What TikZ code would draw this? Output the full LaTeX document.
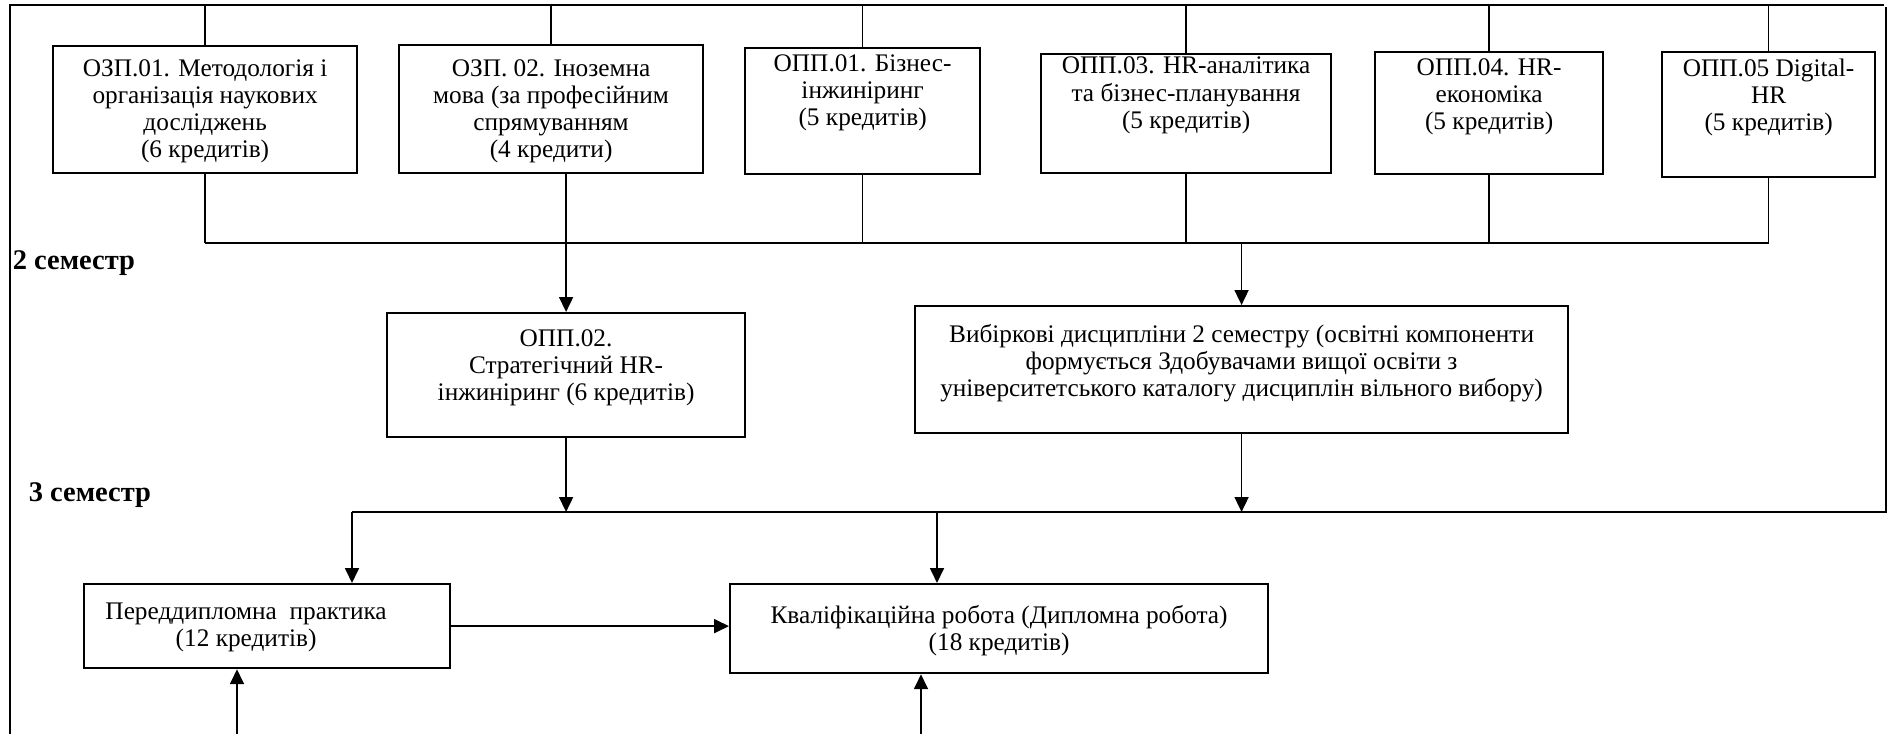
\documentclass[tikz,border=0pt]{standalone}
\usepackage{fontspec}
\setmainfont{Liberation Serif}
\usetikzlibrary{arrows.meta}
\newcommand{\boxtext}[3]{\parbox[c][#2][t]{#1}{\centering #3}}

\begin{document}
\begin{tikzpicture}[x=0.02cm,y=-0.02cm,line width=0.35mm,>={Triangle[length=3mm,width=2.8mm]},
  box/.style={draw,line width=0.45mm,anchor=north west,inner xsep=0pt,font=\fontsize{14.4}{15.4}\selectfont},
  sem/.style={anchor=west,inner sep=0pt,font=\fontsize{16.2}{18}\selectfont\bfseries}]
\useasboundingbox (0,0) rectangle (1890,734);
\node[box,inner ysep=2.7mm] (ozp1) at (52,45) {\boxtext{60.8mm}{20mm}{ОЗП.01. Методологія і\\організація наукових\\досліджень\\(6 кредитів)}};
\node[box,inner ysep=2.9mm] (ozp2) at (398,44) {\boxtext{60.8mm}{19.8mm}{ОЗП. 02. Іноземна\\мова (за професійним\\спрямуванням\\(4 кредити)}};
\node[box,inner ysep=1.3mm] (opp1) at (744,47) {\boxtext{47mm}{22.6mm}{ОПП.01. Бізнес-\\інжиніринг\\(5 кредитів)}};
\node[box,inner ysep=0.6mm] (opp3) at (1040,53) {\boxtext{58mm}{22.6mm}{ОПП.03. HR-аналітика\\та бізнес-планування\\(5 кредитів)}};
\node[box,inner ysep=1.3mm] (opp4) at (1374,51) {\boxtext{45.6mm}{21.8mm}{ОПП.04. HR-\\економіка\\(5 кредитів)}};
\node[box,inner ysep=1.3mm] (opp5) at (1661,51) {\boxtext{42.6mm}{22.4mm}{ОПП.05 Digital-\\HR\\(5 кредитів)}};
\node[box,inner ysep=3.3mm] (opp2) at (386,312) {\boxtext{71.6mm}{18.2mm}{ОПП.02.\\Стратегічний HR-\\інжиніринг (6 кредитів)}};
\node[box,inner ysep=3.7mm] (vyb) at (914,305) {\boxtext{130.6mm}{18mm}{Вибіркові дисципліни 2 семестру (освітні компоненти\\формується Здобувачами вищої освіти з\\університетського каталогу дисциплін вільного вибору)}};
\node[box,inner ysep=3.7mm] (pered) at (83,583) {\boxtext{73.2mm}{9.4mm}{Переддипломна\ \ практика\hspace*{8.4mm}\null\\(12 кредитів)\hspace*{8.4mm}\null}};
\node[box,inner ysep=4.3mm] (kval) at (729,583) {\boxtext{107.6mm}{9.2mm}{Кваліфікаційна робота (Дипломна робота)\\(18 кредитів)}};
\node[sem] (sem2) at (12,263) {2 семестр};
\node[sem] (sem3) at (28,495) {3 семестр};
\coordinate (lb) at (10,734);
\coordinate (lt) at (10,5);
\coordinate (rt) at (1884,5);
\coordinate (rt2) at (1886,7);
\coordinate (rb) at (1886,512);
\coordinate (b2) at (0,243);
\coordinate (b3) at (352,512);
\coordinate (k3) at (937,512);
\coordinate (p0) at (237,734);
\coordinate (k0) at (921,734);
\draw (lb) -- (lt) -- (rt);
\draw (rt2) -- (rb) -- (b3);
\foreach \n in {ozp1,ozp2,opp1,opp3,opp4,opp5} \draw (\n.north) -- (\n.north |- lt);
\foreach \n in {ozp1,opp1,opp3,opp4,opp5} \draw (\n.south) -- (\n.south |- b2);
\draw (ozp1.south |- b2) -- (opp5.south |- b2);
\draw[->] (ozp2.south -| opp2.north) -- (opp2.north);
\draw[->] (vyb.north |- b2) -- (vyb.north);
\draw[->] (opp2.south) -- (opp2.south |- b3);
\draw[->] (vyb.south) -- (vyb.south |- b3);
\draw[->] (b3) -- (b3 |- pered.north);
\draw[->] (k3) -- (k3 |- kval.north);
\draw[->] (pered.east) -- (pered.east -| kval.west);
\draw[->] (p0) -- (p0 |- pered.south);
\draw[->] (k0) -- (k0 |- kval.south);
\end{tikzpicture}
\end{document}
